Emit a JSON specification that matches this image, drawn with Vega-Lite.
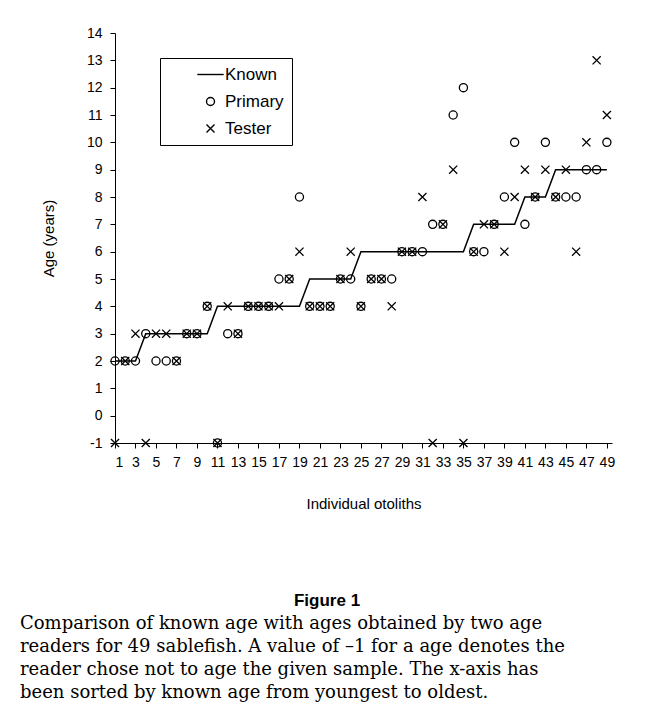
{
  "$schema": "https://vega.github.io/schema/vega-lite/v6.json",
  "autosize": "pad",
  "padding": {"left": 20, "top": 26, "right": 0, "bottom": 0},
  "background": "white",
  "bounds": "flush",
  "spacing": 259,
  "vconcat": [
    {
      "width": 497,
      "height": 410,
      "data": {
        "values": [
          {"otolith": 1, "Known": 2, "Primary": 2, "Tester": -1},
          {"otolith": 2, "Known": 2, "Primary": 2, "Tester": 2},
          {"otolith": 3, "Known": 2, "Primary": 2, "Tester": 3},
          {"otolith": 4, "Known": 3, "Primary": 3, "Tester": -1},
          {"otolith": 5, "Known": 3, "Primary": 2, "Tester": 3},
          {"otolith": 6, "Known": 3, "Primary": 2, "Tester": 3},
          {"otolith": 7, "Known": 3, "Primary": 2, "Tester": 2},
          {"otolith": 8, "Known": 3, "Primary": 3, "Tester": 3},
          {"otolith": 9, "Known": 3, "Primary": 3, "Tester": 3},
          {"otolith": 10, "Known": 3, "Primary": 4, "Tester": 4},
          {"otolith": 11, "Known": 4, "Primary": -1, "Tester": -1},
          {"otolith": 12, "Known": 4, "Primary": 3, "Tester": 4},
          {"otolith": 13, "Known": 4, "Primary": 3, "Tester": 3},
          {"otolith": 14, "Known": 4, "Primary": 4, "Tester": 4},
          {"otolith": 15, "Known": 4, "Primary": 4, "Tester": 4},
          {"otolith": 16, "Known": 4, "Primary": 4, "Tester": 4},
          {"otolith": 17, "Known": 4, "Primary": 5, "Tester": 4},
          {"otolith": 18, "Known": 4, "Primary": 5, "Tester": 5},
          {"otolith": 19, "Known": 4, "Primary": 8, "Tester": 6},
          {"otolith": 20, "Known": 5, "Primary": 4, "Tester": 4},
          {"otolith": 21, "Known": 5, "Primary": 4, "Tester": 4},
          {"otolith": 22, "Known": 5, "Primary": 4, "Tester": 4},
          {"otolith": 23, "Known": 5, "Primary": 5, "Tester": 5},
          {"otolith": 24, "Known": 5, "Primary": 5, "Tester": 6},
          {"otolith": 25, "Known": 6, "Primary": 4, "Tester": 4},
          {"otolith": 26, "Known": 6, "Primary": 5, "Tester": 5},
          {"otolith": 27, "Known": 6, "Primary": 5, "Tester": 5},
          {"otolith": 28, "Known": 6, "Primary": 5, "Tester": 4},
          {"otolith": 29, "Known": 6, "Primary": 6, "Tester": 6},
          {"otolith": 30, "Known": 6, "Primary": 6, "Tester": 6},
          {"otolith": 31, "Known": 6, "Primary": 6, "Tester": 8},
          {"otolith": 32, "Known": 6, "Primary": 7, "Tester": -1},
          {"otolith": 33, "Known": 6, "Primary": 7, "Tester": 7},
          {"otolith": 34, "Known": 6, "Primary": 11, "Tester": 9},
          {"otolith": 35, "Known": 6, "Primary": 12, "Tester": -1},
          {"otolith": 36, "Known": 7, "Primary": 6, "Tester": 6},
          {"otolith": 37, "Known": 7, "Primary": 6, "Tester": 7},
          {"otolith": 38, "Known": 7, "Primary": 7, "Tester": 7},
          {"otolith": 39, "Known": 7, "Primary": 8, "Tester": 6},
          {"otolith": 40, "Known": 7, "Primary": 10, "Tester": 8},
          {"otolith": 41, "Known": 8, "Primary": 7, "Tester": 9},
          {"otolith": 42, "Known": 8, "Primary": 8, "Tester": 8},
          {"otolith": 43, "Known": 8, "Primary": 10, "Tester": 9},
          {"otolith": 44, "Known": 9, "Primary": 8, "Tester": 8},
          {"otolith": 45, "Known": 9, "Primary": 8, "Tester": 9},
          {"otolith": 46, "Known": 9, "Primary": 8, "Tester": 6},
          {"otolith": 47, "Known": 9, "Primary": 9, "Tester": 10},
          {"otolith": 48, "Known": 9, "Primary": 9, "Tester": 13},
          {"otolith": 49, "Known": 9, "Primary": 10, "Tester": 11}
        ]
      },
      "transform": [
        {"fold": ["Known", "Primary", "Tester"], "as": ["series", "age"]}
      ],
      "title": {
        "text": "Figure 1",
        "orient": "bottom",
        "anchor": "middle",
        "frame": "bounds",
        "offset": 82,
        "dx": -1,
        "font": "Liberation Sans",
        "fontSize": 17,
        "fontWeight": "bold",
        "color": "black"
      },
      "encoding": {
        "x": {
          "field": "otolith",
          "type": "quantitative",
          "scale": {"domain": [1, 49.5], "nice": false, "zero": false},
          "axis": {
            "title": "Individual otoliths",
            "values": [1, 3, 5, 7, 9, 11, 13, 15, 17, 19, 21, 23, 25, 27, 29, 31, 33, 35, 37, 39, 41, 43, 45, 47, 49],
            "tickSize": 5,
            "labelPadding": 7,
            "titlePadding": 27
          }
        },
        "y": {
          "field": "age",
          "type": "quantitative",
          "scale": {"domain": [-1, 14], "nice": false, "zero": false},
          "axis": {
            "title": "Age (years)",
            "values": [-1, 0, 1, 2, 3, 4, 5, 6, 7, 8, 9, 10, 11, 12, 13, 14],
            "labelExpr": "'' + datum.value",
            "tickSize": 5,
            "labelPadding": 8,
            "titlePadding": 30
          }
        }
      },
      "layer": [
        {
          "transform": [{"filter": "datum.series === 'Known'"}],
          "mark": {"type": "line", "color": "black", "strokeWidth": 1.5, "interpolate": "linear"},
          "encoding": {}
        },
        {
          "transform": [{"filter": "datum.series !== 'Known'"}],
          "mark": {"type": "point", "filled": false, "color": "black", "strokeWidth": 1.3, "opacity": 1, "size": 66},
          "encoding": {
            "shape": {
              "field": "series",
              "type": "nominal",
              "scale": {
                "domain": ["Known", "Primary", "Tester"],
                "range": ["M-3.3,0L3.3,0", "circle", "M-1,-1L1,1M-1,1L1,-1"]
              },
              "legend": {"title": null, "symbolSize": 64}
            }
          }
        }
      ]
    },
    {
      "width": 603,
      "height": 1,
      "data": {"values": []},
      "mark": {"type": "text"},
      "encoding": {},
      "title": {
        "text": [
          "Comparison of known age with ages obtained by two age",
          "readers for 49 sablefish. A value of –1 for a age denotes the",
          "reader chose not to age the given sample. The x-axis has",
          "been sorted by known age from youngest to oldest."
        ],
        "orient": "top",
        "anchor": "start",
        "frame": "group",
        "dx": -95,
        "offset": 0,
        "font": "DejaVu Serif",
        "fontSize": 18,
        "fontWeight": "normal",
        "color": "black",
        "lineHeight": 23
      }
    }
  ],
  "config": {
    "view": {"stroke": null},
    "font": "Liberation Sans",
    "axis": {
      "grid": false,
      "domainColor": "black",
      "domainWidth": 1,
      "tickColor": "black",
      "tickWidth": 1,
      "labelColor": "black",
      "labelFont": "Liberation Sans",
      "labelFontSize": 14,
      "titleColor": "black",
      "titleFont": "Liberation Sans",
      "titleFontSize": 15,
      "titleFontWeight": "normal"
    },
    "legend": {
      "orient": "none",
      "legendX": 45,
      "legendY": 25,
      "strokeColor": "black",
      "strokeWidth": 1,
      "padding": 8,
      "symbolOffset": 34,
      "labelFont": "Liberation Sans",
      "labelFontSize": 17,
      "labelColor": "black",
      "labelOffset": 6,
      "rowPadding": 9,
      "symbolStrokeColor": "black",
      "symbolFillColor": "transparent",
      "symbolStrokeWidth": 1.4
    }
  }
}
